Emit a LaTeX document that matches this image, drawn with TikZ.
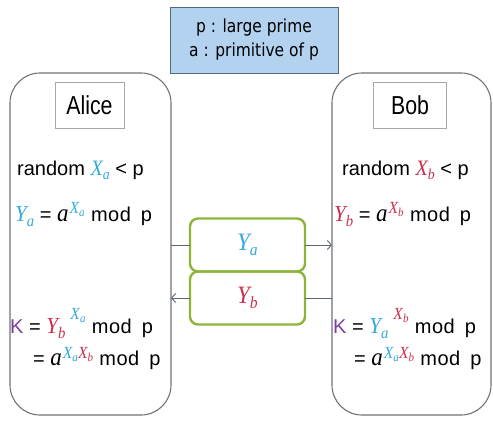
\documentclass[tikz,border=0pt]{standalone}
\usepackage{fontspec}
\setmainfont{Liberation Sans}
\newfontfamily\namefont{Liberation Sans}[FakeStretch=0.82]
\newfontfamily\notefont{DejaVu Sans}[FakeStretch=0.86]
\newfontfamily\varfont{Liberation Serif}[FakeStretch=0.92]
\usetikzlibrary{positioning,arrows.meta}

\definecolor{keycyan}{HTML}{35A9DA}
\definecolor{keyred}{HTML}{C9304F}
\definecolor{keypurple}{HTML}{7B3FA0}
\definecolor{keygreen}{HTML}{8DB43A}
\definecolor{pubblue}{HTML}{B2D2EF}
\definecolor{pubborder}{HTML}{56697C}
\definecolor{partygray}{HTML}{6E7378}
\definecolor{namegray}{HTML}{A3A8AE}
\definecolor{linkgray}{HTML}{5E666E}

% italic letter with a subscript: letter size, subscript size, letter, index
\newcommand{\sym}[4]{{\varfont\itshape\fontsize{#1}{#1}\selectfont #3\raisebox{-0.22em}{\fontsize{#2}{#2}\selectfont #4}}}
\newcommand{\up}[2][8pt]{\hspace{1pt}\raisebox{#1}{#2}\hspace{3pt}}
\newcommand{\av}{{\varfont\itshape\fontsize{25}{25}\selectfont a}}
\newcommand{\modp}{m\hspace{0.5pt}o\hspace{0.5pt}d\hspace{0.5em}p}
\newcommand{\xa}{\textcolor{keycyan}{\sym{22}{15}{X}{a}}}
\newcommand{\xb}{\textcolor{keyred}{\sym{22}{15}{X}{b}}}
\newcommand{\ya}{\textcolor{keycyan}{\sym{23}{16}{Y}{a}}}
\newcommand{\yb}{\textcolor{keyred}{\sym{23}{16}{Y}{b}}}
\newcommand{\sxa}{\textcolor{keycyan}{\sym{17}{12}{X}{a}}}
\newcommand{\sxb}{\textcolor{keyred}{\sym{17}{12}{X}{b}}}
\newcommand{\kk}{\textcolor{keypurple}{K}}

\begin{document}
\begin{tikzpicture}[x=1pt, y=-1pt, font=\fontsize{20}{24}\selectfont]
    \tikzstyle{party}=[draw=partygray, line width=1.1pt, rounded corners=30pt,
                       inner sep=0pt, outer sep=0pt]
    \tikzstyle{namebox}=[draw=namegray, line width=0.7pt, minimum height=46pt,
                         inner sep=0pt, outer sep=0pt,
                         font=\namefont\fontsize{26}{28}\selectfont]
    \tikzstyle{keybox}=[draw=keygreen, line width=2.4pt, rounded corners=8pt,
                        minimum width=115pt, minimum height=53pt,
                        inner sep=0pt, outer sep=0pt]
    \tikzstyle{pub}=[draw=pubborder, fill=pubblue, line width=1pt,
                     minimum width=168pt, minimum height=66pt, align=center,
                     inner sep=0pt, font=\notefont\fontsize{18}{24}\selectfont]
    \tikzstyle{link}=[draw=linkgray, line width=0.9pt]
    \tikzstyle{arrow}=[link, -{Straight Barb[length=4pt, width=9pt]}]
    \tikzstyle{eq}=[anchor=base west, inner sep=0pt]

    \useasboundingbox (0,0) rectangle (493,421);

    \node[party, minimum width=161pt, minimum height=342pt] (alice) at (90.5,244) {};
    \node[party, minimum width=159pt, minimum height=342pt] (bob)   at (411.5,244) {};
    \node[pub] (pub) at (254,40) {p : large prime\\a : primitive of p};

    \node[namebox, minimum width=69pt, below=9pt of alice.north, xshift=-1pt] (aname) {Alice};
    \node[namebox, minimum width=73pt, below=9pt of bob.north, xshift=-1.5pt]  (bname) {Bob};

    \node[keybox] (ka) at (247.5,245) {\textcolor{keycyan}{\sym{25}{17}{Y}{a}}};
    \node[keybox, below=0pt of ka] (kb) {\textcolor{keyred}{\sym{25}{17}{Y}{b}}};

    \draw[link]  (ka.west -| alice.east) -- (ka.west);
    \draw[arrow] (ka.east) -- (ka.east -| bob.west);
    \draw[link]  (kb.east -| bob.west) -- (kb.east);
    \draw[arrow] (kb.west) -- (kb.west -| alice.east);

    % Alice side
    \node[eq] (arand) at (17,175)  {random \xa{} < p};
    \node[eq] (apub)  at (15,221)  {\ya{} = \av\up{\sxa}\,\modp};
    \node[eq] (akey)  at (10,333)  {\kk{} = \yb\up[14pt]{\hspace{4pt}\sxa}\,\modp};
    \node[eq] (akey2) at (33,365)  {= \av\up[7pt]{\sxa\sxb}\,\modp};

    % Bob side
    \node[eq] (brand) at (342,175) {random \xb{} < p};
    \node[eq] (bpub)  at (334,221) {\yb{} = \av\up{\sxb}\,\modp};
    \node[eq] (bkey)  at (333,333) {\kk{} = \ya\up[14pt]{\hspace{4pt}\sxb}\,\modp};
    \node[eq] (bkey2) at (354,365) {= \av\up[7pt]{\sxa\sxb}\,\modp};
\end{tikzpicture}
\end{document}
